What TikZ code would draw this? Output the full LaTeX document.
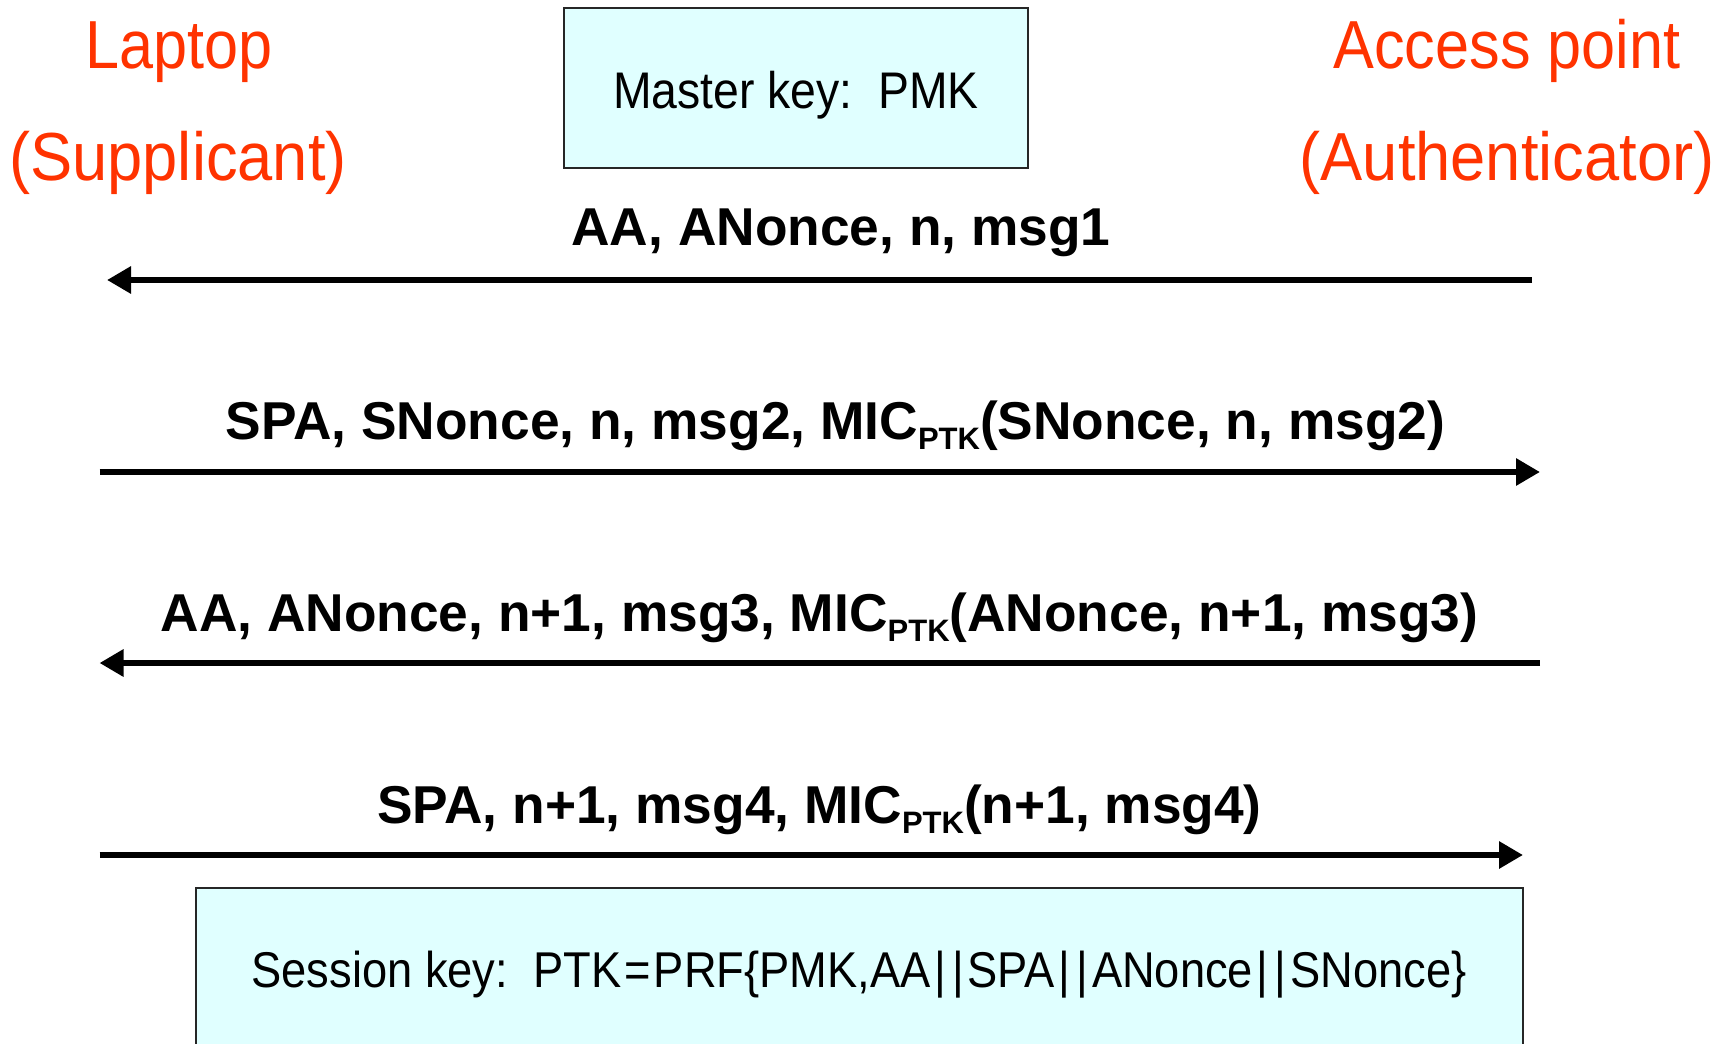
\documentclass[tikz,border=0pt]{standalone}
\usepackage{fontspec}
\setmainfont{Liberation Sans}
\newfontfamily\narrowfont{Liberation Sans}[FakeStretch=0.9]
\newfontfamily\narrowwfont{Liberation Sans}[FakeStretch=0.93]
\usetikzlibrary{arrows.meta}
\definecolor{partyred}{HTML}{FF3300}
\definecolor{keyfill}{HTML}{E0FFFF}
\tikzset{
  party/.style={text=partyred, inner sep=0pt, anchor=base, font=\narrowfont\fontsize{68}{68}\selectfont},
  partyw/.style={party, font=\narrowwfont\fontsize{68}{68}\selectfont},
  keybox/.style={draw=black!85, line width=2pt, fill=keyfill, inner sep=0pt},
  boxtext/.style={inner sep=0pt, anchor=base, font=\narrowfont\fontsize{51.5}{51.5}\selectfont},
  sesstext/.style={boxtext, font=\narrowfont\fontsize{50.3}{50.3}\selectfont},
  lbl/.style={inner sep=0pt, anchor=base, font=\bfseries\fontsize{53.3}{53.3}\selectfont},
  msg/.style={line width=6pt, -{Triangle[length=24pt,width=26pt]}}
}
\newcommand{\subptk}{\raisebox{-0.2em}{\fontsize{31}{31}\selectfont PTK}}
\newcommand{\dbar}{\kern0.07em|\kern0.13em|\kern0.07em}
\newcommand{\spceq}{\kern0.06em=\kern0.06em}
\begin{document}
\begin{tikzpicture}[x=1pt,y=-1pt]
\clip (0,0) rectangle (1733,1044);
\fill[white] (0,0) rectangle (1733,1044);
% parties
\node[party] (lap) at (179,68.5) {Laptop};
\node[partyw] (sup) at (178,180) {(Supplicant)};
\node[party] (ap) at (1507,68.5) {Access point};
\node[partyw] (auth) at (1507,180) {(Authenticator)};
% master key box
\node[keybox, minimum width=464pt, minimum height=160pt] (mk) at (796,88) {};
\node[boxtext] (mkt) at (796,108) {Master key:\ \ PMK};
% messages
\coordinate (m1a) at (1532,280); \coordinate (m1b) at (107,280);
\coordinate (m2a) at (99.5,472); \coordinate (m2b) at (1540,472);
\coordinate (m3a) at (1540,663); \coordinate (m3b) at (99.5,663);
\coordinate (m4a) at (99.5,855); \coordinate (m4b) at (1523,855);
\draw[msg] (m1a) -- (m1b);
\draw[msg] (m2a) -- (m2b);
\draw[msg] (m3a) -- (m3b);
\draw[msg] (m4a) -- (m4b);
\node[lbl] (l1) at (841,245) {AA, ANonce, n, msg1};
\node[lbl] (l2) at (835.5,439) {SPA, SNonce, n, msg2, MIC\subptk(SNonce, n, msg2)};
\node[lbl] (l3) at (819.5,631) {AA, ANonce, n+1, msg3, MIC\subptk(ANonce, n+1, msg3)};
\node[lbl] (l4) at (819.5,823) {SPA, n+1, msg4, MIC\subptk(n+1, msg4)};
% session key box
\node[keybox, minimum width=1327pt, minimum height=200pt] (sk) at (859.5,987.5) {};
\node[sesstext] (skt) at (859,987) {Session key:\ \ PTK\spceq PRF\{PMK,AA\dbar SPA\dbar ANonce\dbar SNonce\}};
\end{tikzpicture}
\end{document}
